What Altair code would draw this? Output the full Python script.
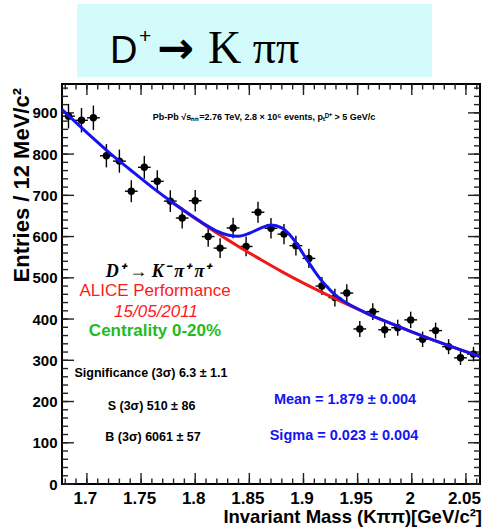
import altair as alt
import numpy as np
import pandas as pd

# ---- measured invariant-mass spectrum (K pi pi), Pb-Pb 0-20% ----
MASS = [1.683, 1.695, 1.706, 1.718, 1.730, 1.741, 1.753, 1.765, 1.777, 1.788, 1.800,
        1.812, 1.823, 1.835, 1.847, 1.858, 1.870, 1.882, 1.893, 1.905, 1.917, 1.929,
        1.940, 1.952, 1.964, 1.975, 1.987, 1.999, 2.010, 2.022, 2.034, 2.045, 2.057]
COUNTS = [892, 882, 888, 796, 783, 710, 768, 734, 686, 645, 687,
          600, 572, 621, 576, 659, 620, 606, 578, 547, 480, 452,
          463, 376, 418, 374, 379, 398, 351, 372, 333, 306, 315]
HALF_BIN = 0.0059

# background fit (red) and background + signal fit (blue)
BKG_M = [1.677, 1.70, 1.72, 1.74, 1.76, 1.78, 1.80, 1.82, 1.84, 1.86, 1.88, 1.90,
         1.92, 1.94, 1.96, 1.98, 2.00, 2.02, 2.04, 2.063]
BKG_V = [908, 852, 805, 762, 720, 681, 644, 609, 576, 545, 515, 487,
         461, 436, 412, 390, 369, 349, 330, 309]
FIT_M = [1.677, 1.70, 1.72, 1.74, 1.76, 1.78, 1.80, 1.81, 1.82, 1.83, 1.84, 1.85,
         1.86, 1.87, 1.88, 1.89, 1.90, 1.91, 1.92, 1.93, 1.94, 1.95, 1.96, 1.98,
         2.00, 2.02, 2.04, 2.063]
FIT_V = [908, 852, 805, 762, 720, 681, 645, 628, 613, 604, 601, 608,
         620, 628, 621, 596, 557, 517, 483, 457, 439, 425, 412, 390,
         369, 349, 330, 309]

# axis ticks
X_MAJOR = [1.70, 1.75, 1.80, 1.85, 1.90, 1.95, 2.00, 2.05]
X_MINOR = [round(1.68 + 0.01 * i, 2) for i in range(39)]
Y_MAJOR = [0, 100, 200, 300, 400, 500, 600, 700, 800, 900]
Y_MINOR = [20 * i for i in range(49)]

W, H = 418, 400
SANS = "Liberation Sans"
SERIF = "Liberation Serif"
BLUE = "#1414f0"
RED = "#f01818"

xsc = alt.Scale(domain=[1.677, 2.063], nice=False, zero=False)
ysc = alt.Scale(domain=[0, 970], nice=False, zero=True)

x_axis = alt.Axis(values=X_MAJOR, format="~g", title=None, grid=False, ticks=False,
                  tickSize=0, domain=False, labelFont=SANS, labelFontWeight="bold",
                  labelFontSize=17, labelColor="black", labelPadding=6, labelOffset=-2,
                  labelFlush=False, labelOverlap=False)
y_axis = alt.Axis(values=Y_MAJOR, format="d", title=None, grid=False, ticks=False,
                  tickSize=0, domain=False, labelFont=SANS, labelFontWeight="bold",
                  labelFontSize=15, labelColor="black", labelPadding=5,
                  labelFlush=False, labelOverlap=False)


def X(field):
    return alt.X(field, type="quantitative", scale=xsc, axis=x_axis)


def Y(field):
    return alt.Y(field, type="quantitative", scale=ysc, axis=y_axis)


pts = pd.DataFrame({"m": MASS, "n": COUNTS})
pts["err"] = np.sqrt(pts["n"])
pts["n_lo"] = pts["n"] - pts["err"]
pts["n_hi"] = pts["n"] + pts["err"]
pts["m_lo"] = pts["m"] - HALF_BIN
pts["m_hi"] = pts["m"] + HALF_BIN

bkg = pd.DataFrame({"m": BKG_M, "v": BKG_V})
bkg = bkg[bkg["m"] >= 1.78]
fit = pd.DataFrame({"m": FIT_M, "v": FIT_V})

base = alt.Chart(pts)
vbars = base.mark_rule(color="black", strokeWidth=1.4).encode(
    x=X("m"), y=Y("n_lo"), y2="n_hi:Q")
hbars = base.mark_rule(color="black", strokeWidth=1.4).encode(
    x=X("m_lo"), x2="m_hi:Q", y=Y("n"))
dots = base.mark_circle(size=55, color="black", opacity=1).encode(x=X("m"), y=Y("n"))

red_line = alt.Chart(bkg).mark_line(color=RED, strokeWidth=3, interpolate="monotone").encode(
    x=X("m"), y=Y("v"))
blue_line = alt.Chart(fit).mark_line(color=BLUE, strokeWidth=3, interpolate="monotone").encode(
    x=X("m"), y=Y("v"))


def xticks(values, length):
    d = pd.DataFrame({"t": values})
    bottom = alt.Chart(d).mark_rule(color="#222", strokeWidth=1.4).encode(
        x=X("t"), y=alt.value(H), y2=alt.value(H - length))
    top = alt.Chart(d).mark_rule(color="#222", strokeWidth=1.4).encode(
        x=X("t"), y=alt.value(0), y2=alt.value(length))
    return [bottom, top]


def yticks(values, length):
    d = pd.DataFrame({"t": values})
    left = alt.Chart(d).mark_rule(color="#222", strokeWidth=1.4).encode(
        y=Y("t"), x=alt.value(0), x2=alt.value(length))
    right = alt.Chart(d).mark_rule(color="#222", strokeWidth=1.4).encode(
        y=Y("t"), x=alt.value(W), x2=alt.value(W - length))
    return [left, right]


def label(text, x, y, size, color="black", weight="bold", style="normal",
          font=SANS, align="center", baseline="middle", angle=0):
    return alt.Chart(alt.Data(values=[{}])).mark_text(
        text=text, fontSize=size, color=color, fontWeight=weight, fontStyle=style,
        font=font, align=align, baseline=baseline, angle=angle,
    ).encode(x=alt.value(x), y=alt.value(y))


# heading box above the frame
heading_box = alt.Chart(alt.Data(values=[{}])).mark_rect(color="#d4fbfb").encode(
    x=alt.value(15), x2=alt.value(370), y=alt.value(-80), y2=alt.value(-7))

texts = [
    label("D", 48, -21, 38, weight="normal", align="left", baseline="alphabetic"),
    label("+", 77, -47, 21, weight="normal", align="left"),
    label("\u2192", 95, -21, 44, weight="bold", font="DejaVu Sans", align="left",
          baseline="alphabetic"),
    label("K \u03c0\u03c0", 146, -21, 46, weight="normal", font=SERIF, align="left",
          baseline="alphabetic"),
    label("Pb-Pb \u221as\u2099\u2099=2.76 TeV, 2.8 \u00d7 10\u2076 events, p\u209c\u1d30\u207a > 5 GeV/c",
          202, 33, 9),
    label("D\u207a \u2192 K\u207b \u03c0\u207a \u03c0\u207a", 96, 188, 18, weight="bold",
          style="italic", font=SERIF),
    label("ALICE Performance", 93, 207, 17, color="#ff1a1a", weight="normal"),
    label("15/05/2011", 94, 228, 17, color="#ff1a1a", weight="normal", style="italic"),
    label("Centrality 0-20%", 93, 247, 17, color="#22bb22"),
    label("Significance (3\u03c3) 6.3 \u00b1 1.1", 89, 289, 12.5),
    label("S (3\u03c3) 510 \u00b1 86", 89.5, 322, 12.5),
    label("B (3\u03c3) 6061 \u00b1 57", 91, 353, 12.5),
    label("Mean = 1.879 \u00b1 0.004", 283, 316, 14.5, color=BLUE),
    label("Sigma = 0.023 \u00b1 0.004", 282, 352, 14.5, color=BLUE),
    label("Entries / 12 MeV/c\u00b2", -40, 4, 22, angle=270, align="right"),
    label("Invariant Mass (K\u03c0\u03c0)[GeV/c\u00b2]", W + 2, 439, 18.5, align="right",
          baseline="alphabetic"),
]

layers = ([vbars, hbars]
          + xticks(X_MINOR, 5.5) + xticks(X_MAJOR, 11)
          + yticks(Y_MINOR, 6) + yticks(Y_MAJOR, 12)
          + [dots, red_line, blue_line, heading_box]
          + texts)

chart = alt.layer(*layers).properties(
    width=W, height=H,
    autosize=alt.AutoSizeParams(type="none"),
    padding={"left": 62, "top": 84, "right": 6, "bottom": 45},
    background="white",
).configure_view(stroke="black", strokeWidth=2)

chart.save("out.html", embed_options={"renderer": "svg", "actions": False})
